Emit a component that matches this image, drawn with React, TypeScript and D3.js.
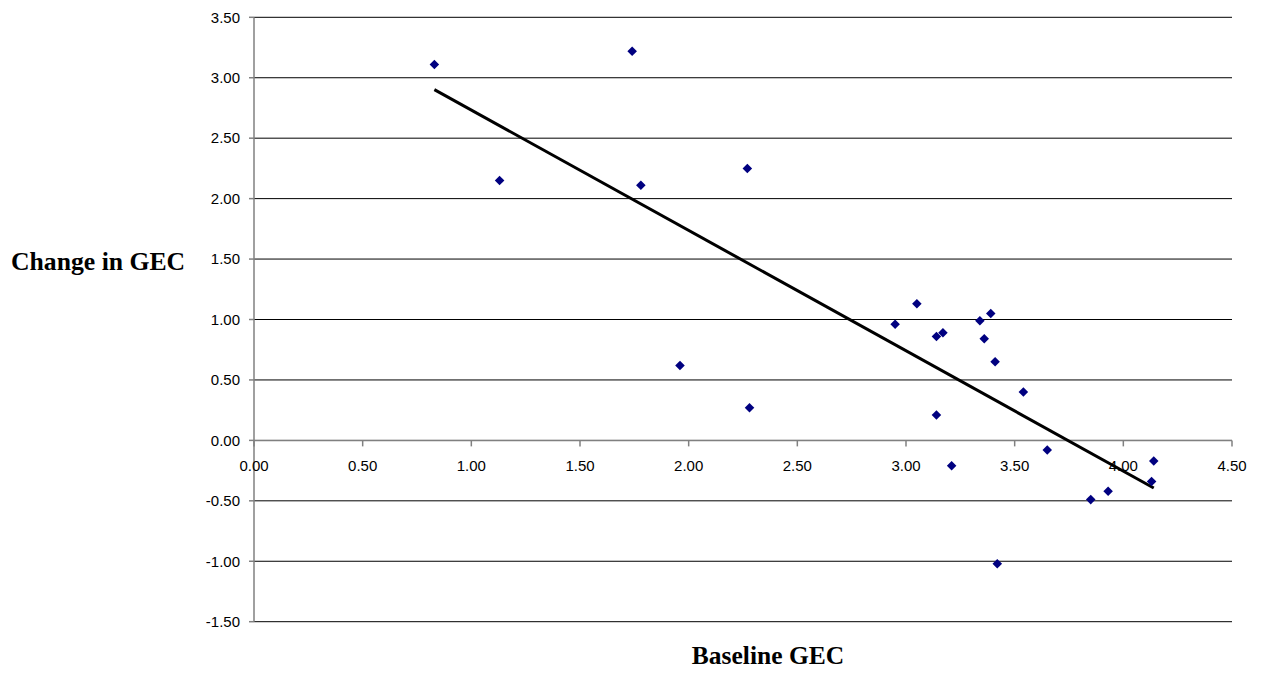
import React from "react";
import * as d3 from "d3";

const baselineGEC = [0.83, 1.13, 1.74, 1.78, 2.27, 1.96, 2.28, 2.95, 3.05, 3.14, 3.17, 3.34, 3.39, 3.36, 3.41, 3.54, 3.14, 3.65, 3.21, 4.14, 4.13, 3.93, 3.85, 3.42];
const changeGEC = [3.11, 2.15, 3.22, 2.11, 2.25, 0.62, 0.27, 0.96, 1.13, 0.86, 0.89, 0.99, 1.05, 0.84, 0.65, 0.40, 0.21, -0.08, -0.21, -0.17, -0.34, -0.42, -0.49, -1.02];
const xTicks = [0, 0.5, 1, 1.5, 2, 2.5, 3, 3.5, 4, 4.5];
const yTicks = [3.5, 3, 2.5, 2, 1.5, 1, 0.5, 0, -0.5, -1, -1.5];
const xTitle = "Baseline GEC";
const yTitle = "Change in GEC";

const W = 1265;
const H = 673;

export default function App() {
  const x = d3.scaleLinear().domain([0, 4.5]).range([254, 1232]);
  const y = d3.scaleLinear().domain([-1.5, 3.5]).range([621.7, 17.3]);

  const pts = baselineGEC.map((bx, i) => [bx, changeGEC[i]] as [number, number]);
  const mx = d3.mean(baselineGEC)!;
  const my = d3.mean(changeGEC)!;
  let sxy = 0, sxx = 0;
  pts.forEach(([a, b]) => { sxy += (a - mx) * (b - my); sxx += (a - mx) * (a - mx); });
  const slope = sxy / sxx;
  const icpt = my - slope * mx;
  const [xmin, xmax] = d3.extent(baselineGEC) as [number, number];
  const trend = d3.line<number>().x(v => x(v)).y(v => y(icpt + slope * v))([xmin, xmax]) || "";

  const diamond = d3.symbol().type(d3.symbolDiamond2 ?? d3.symbolDiamond).size(58)() || "";
  const fmt = (v: number) => v.toFixed(2);
  const axisFont = "Arial, 'Liberation Sans', sans-serif";
  const titleFont = "'Times New Roman', 'Liberation Serif', serif";

  return (
    <svg width={W} height={H} style={{ position: "absolute", left: 0, top: 0, background: "#fff" }}>
      {/* gridlines */}
      {yTicks.map(t => (
        <line key={"g" + t} x1={x(0)} x2={x(4.5)} y1={y(t)} y2={y(t)} stroke={t === 0 ? "#808080" : "#000"} strokeWidth={1} />
      ))}
      {/* y axis */}
      <line x1={x(0)} x2={x(0)} y1={y(3.5)} y2={y(-1.5)} stroke="#808080" strokeWidth={1.5} />
      {yTicks.map(t => (
        <g key={"yt" + t}>
          <line x1={x(0) - 5} x2={x(0)} y1={y(t)} y2={y(t)} stroke="#808080" strokeWidth={1.5} />
          <text x={240} y={y(t)} dy="0.35em" textAnchor="end" fontFamily={axisFont} fontSize={15} fill="#000">{fmt(t)}</text>
        </g>
      ))}
      {/* x axis at 0 */}
      <line x1={x(0)} x2={x(4.5)} y1={y(0)} y2={y(0)} stroke="#808080" strokeWidth={1.5} />
      {xTicks.map(t => (
        <g key={"xt" + t}>
          <line x1={x(t)} x2={x(t)} y1={y(0)} y2={y(0) + 6} stroke="#808080" strokeWidth={1.5} />
          <text x={x(t)} y={470.5} textAnchor="middle" fontFamily={axisFont} fontSize={15} fill="#000">{fmt(t)}</text>
        </g>
      ))}
      {/* trend line */}
      <path d={trend} stroke="#000" strokeWidth={3} fill="none" />
      {/* points */}
      {pts.map(([a, b], i) => (
        <path key={"p" + i} d={diamond} transform={`translate(${x(a)},${y(b)})`} fill="#000080" />
      ))}
      {/* titles */}
      <text x={11} y={270} fontFamily={titleFont} fontWeight="bold" fontSize={25.7} fill="#000">{yTitle}</text>
      <text x={768} y={664} textAnchor="middle" fontFamily={titleFont} fontWeight="bold" fontSize={25.5} fill="#000">{xTitle}</text>
    </svg>
  );
}
